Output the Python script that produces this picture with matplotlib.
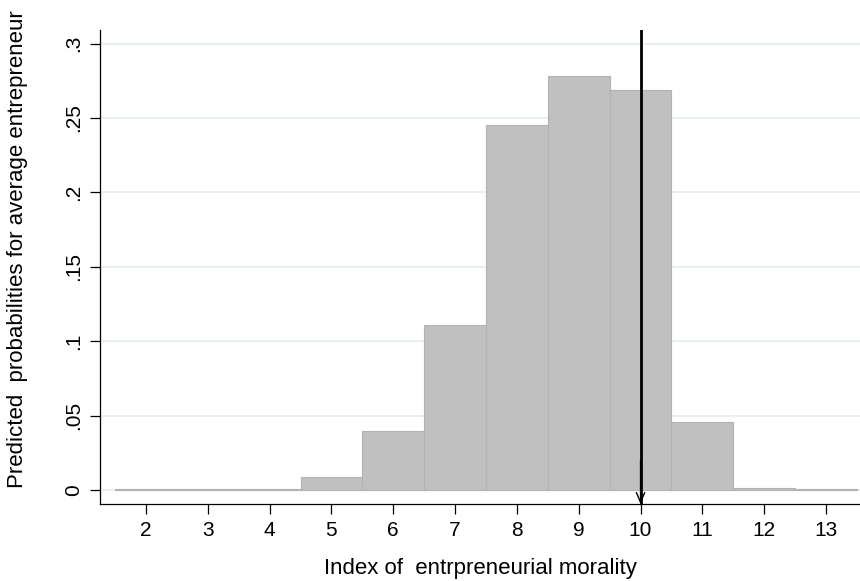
import matplotlib.pyplot as plt

plt.rcParams['font.family'] = ['Liberation Sans', 'DejaVu Sans']

scores = [2, 3, 4, 5, 6, 7, 8, 9, 10, 11, 12, 13]
probs = [0.0005, 0.0005, 0.001, 0.0087, 0.040, 0.111, 0.245, 0.2785, 0.269, 0.046, 0.0013, 0.0007]
yticks = [0, 0.05, 0.1, 0.15, 0.2, 0.25, 0.3]
ylabels = ['0', '.05', '.1', '.15', '.2', '.25', '.3']
mean_score = 10

fig = plt.figure(figsize=(8.6, 5.81), dpi=100)
ax = fig.add_axes([0.1163, 0.1325, 0.8837, 0.8155])

ax.bar(scores, probs, width=1.0, color='#c0c0c0', edgecolor='#b2b2b2', linewidth=0.8, zorder=2)

# marker for the average entrepreneur
ax.axvline(mean_score, color='black', lw=2, zorder=4)
ax.annotate('', xy=(mean_score, -0.0094), xytext=(mean_score, 0.02),
            arrowprops=dict(arrowstyle='->,head_length=0.7,head_width=0.3', color='black', lw=1.0,
                            shrinkA=0, shrinkB=0),
            zorder=4)

ax.set_xlim(1.256, 13.55)
ax.set_ylim(-0.0094, 0.309)
ax.set_xticks(scores)
ax.set_yticks(yticks)
ax.set_yticklabels(ylabels, rotation=90, va='center')
ax.grid(axis='y', color='#e8f0f2', linewidth=1.5, zorder=0)
ax.set_axisbelow(True)

for s in ['top', 'right']:
    ax.spines[s].set_visible(False)
for s in ['left', 'bottom']:
    ax.spines[s].set_color('black')
    ax.spines[s].set_linewidth(0.9)

ax.tick_params(axis='both', direction='out', length=7, width=0.9, labelsize=15, pad=5)
ax.set_xlabel('Index of  entrpreneurial morality', fontsize=16, labelpad=13)
ax.set_ylabel('Predicted  probabilities for average entrepreneur', fontsize=16)
ax.yaxis.set_label_coords(-0.095, 0.538)

fig.savefig('out.png', dpi=100)
